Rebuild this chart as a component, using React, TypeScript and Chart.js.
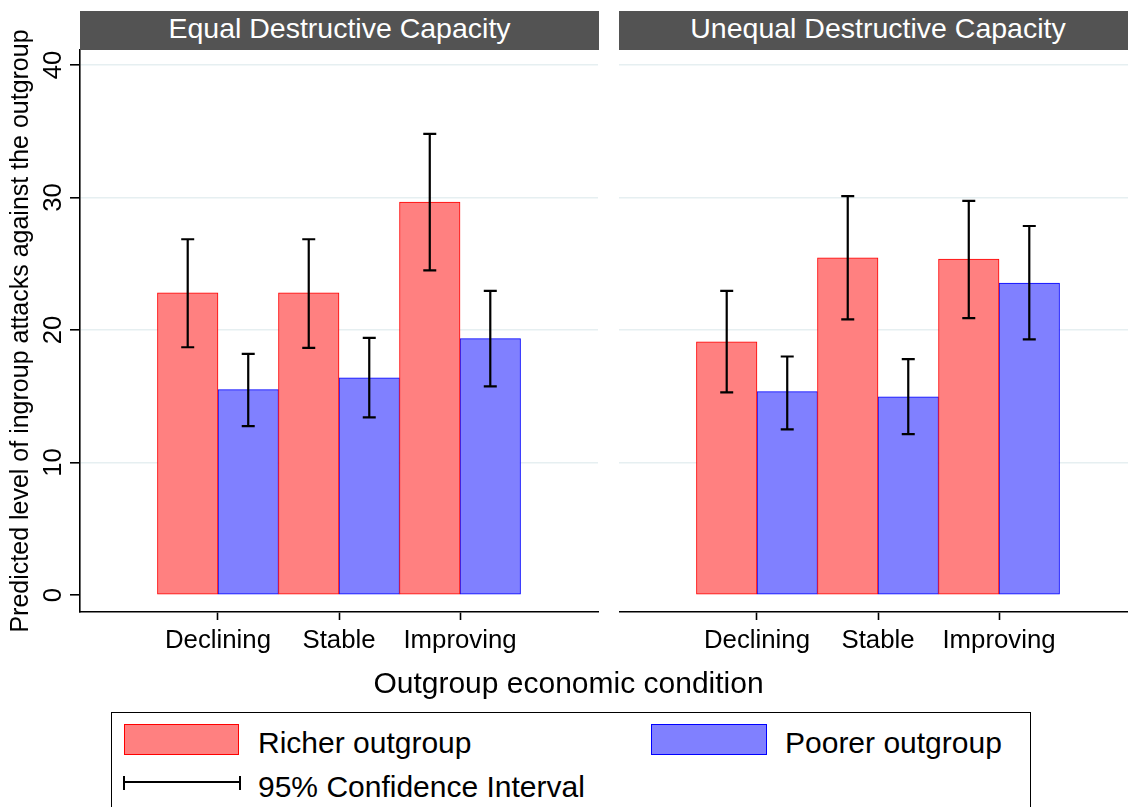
import React, { useEffect, useRef } from 'react';
import { Chart, registerables } from 'chart.js';

Chart.register(...registerables);

const CATEGORIES = ['Declining', 'Stable', 'Improving'];
const CATEGORY_POS = [1, 2, 3];
const PANEL_TITLES = ['Equal Destructive Capacity', 'Unequal Destructive Capacity'];
const SERIES_NAMES = ['Richer outgroup', 'Poorer outgroup'];
const Y_TICKS = [0, 10, 20, 30, 40];
const Y_TITLE = 'Predicted level of ingroup attacks against the outgroup';
const X_TITLE = 'Outgroup economic condition';
const CI_LABEL = '95% Confidence Interval';

const EQUAL_RICHER = [22.8, 22.8, 29.65];
const EQUAL_RICHER_LOW = [18.7, 18.65, 24.5];
const EQUAL_RICHER_HIGH = [26.85, 26.85, 34.8];
const EQUAL_POORER = [15.5, 16.4, 19.35];
const EQUAL_POORER_LOW = [12.75, 13.4, 15.75];
const EQUAL_POORER_HIGH = [18.2, 19.4, 22.95];

const UNEQUAL_RICHER = [19.1, 25.45, 25.35];
const UNEQUAL_RICHER_LOW = [15.3, 20.8, 20.9];
const UNEQUAL_RICHER_HIGH = [22.95, 30.1, 29.75];
const UNEQUAL_POORER = [15.35, 14.95, 23.55];
const UNEQUAL_POORER_LOW = [12.5, 12.15, 19.3];
const UNEQUAL_POORER_HIGH = [18.0, 17.8, 27.85];

const Y_MIN = -1.28;
const Y_MAX = 41.13;
const X_MIN = -0.14;
const X_MAX = 4.14;

const FONT = '"Liberation Sans", Arial, Helvetica, sans-serif';
const RED_FILL = '#ff8080';
const RED_LINE = '#ff0000';
const BLUE_FILL = '#8080ff';
const BLUE_LINE = '#0000ff';
const GRID = '#e6eff1';
const HEADER_BG = '#535353';

const errorBarPlugin = {
  id: 'errorBars',
  afterDatasetsDraw(chart: any) {
    const ctx = chart.ctx;
    const yScale = chart.scales.y;
    chart.data.datasets.forEach((ds: any, i: number) => {
      const meta = chart.getDatasetMeta(i);
      meta.data.forEach((el: any, j: number) => {
        const lo = yScale.getPixelForValue(ds.ciLow[j]);
        const hi = yScale.getPixelForValue(ds.ciHigh[j]);
        const x = el.x;
        ctx.save();
        ctx.strokeStyle = '#000';
        ctx.lineWidth = 2.2;
        ctx.beginPath();
        ctx.moveTo(x, lo);
        ctx.lineTo(x, hi);
        ctx.moveTo(x - 6.5, lo);
        ctx.lineTo(x + 6.5, lo);
        ctx.moveTo(x - 6.5, hi);
        ctx.lineTo(x + 6.5, hi);
        ctx.stroke();
        ctx.restore();
      });
    });
  },
};

type PanelProps = {
  richer: number[];
  richerLow: number[];
  richerHigh: number[];
  poorer: number[];
  poorerLow: number[];
  poorerHigh: number[];
  showYAxis: boolean;
  width: number;
  height: number;
  padRight: number;
};

function Panel(props: PanelProps) {
  const ref = useRef<HTMLCanvasElement | null>(null);
  useEffect(() => {
    if (!ref.current) return;
    const { richer, richerLow, richerHigh, poorer, poorerLow, poorerHigh, showYAxis } = props;
    const yAxis: any = showYAxis
      ? {
          type: 'linear',
          min: Y_MIN,
          max: Y_MAX,
          afterBuildTicks: (s: any) => {
            s.ticks = Y_TICKS.map((v) => ({ value: v }));
          },
          afterFit: (s: any) => {
            s.width = 80;
          },
          grid: {
            color: (c: any) => (c.tick && c.tick.value === 0 ? 'rgba(0,0,0,0)' : GRID),
            lineWidth: 1.6,
            drawTicks: true,
            tickLength: 10,
            tickColor: '#000',
            tickWidth: 1.6,
          },
          border: { display: true, color: '#000', width: 1.6 },
          ticks: {
            minRotation: 90,
            maxRotation: 90,
            crossAlign: 'center',
            padding: 2,
            color: '#000',
            autoSkip: false,
            font: { family: FONT, size: 25.8 },
          },
          title: {
            display: true,
            text: Y_TITLE,
            color: '#000',
            font: { family: FONT, size: 25 },
            padding: { top: 6, bottom: 0 },
          },
        }
      : {
          type: 'linear',
          min: Y_MIN,
          max: Y_MAX,
          afterBuildTicks: (s: any) => {
            s.ticks = Y_TICKS.map((v) => ({ value: v }));
          },
          afterFit: (s: any) => {
            s.width = 0;
          },
          grid: {
            color: (c: any) => (c.tick && c.tick.value === 0 ? 'rgba(0,0,0,0)' : GRID),
            lineWidth: 1.6,
            drawTicks: false,
          },
          border: { display: false },
          ticks: { display: false },
          title: { display: false },
        };

    const chart = new Chart(ref.current, {
      type: 'bar',
      data: {
        datasets: [
          {
            label: SERIES_NAMES[0],
            data: CATEGORY_POS.map((x, i) => ({ x, y: richer[i] })),
            backgroundColor: RED_FILL,
            borderColor: RED_LINE,
            borderWidth: 1,
            borderSkipped: false,
            categoryPercentage: 1,
            barPercentage: 1,
            ciLow: richerLow,
            ciHigh: richerHigh,
          } as any,
          {
            label: SERIES_NAMES[1],
            data: CATEGORY_POS.map((x, i) => ({ x, y: poorer[i] })),
            backgroundColor: BLUE_FILL,
            borderColor: BLUE_LINE,
            borderWidth: 1,
            borderSkipped: false,
            categoryPercentage: 1,
            barPercentage: 1,
            ciLow: poorerLow,
            ciHigh: poorerHigh,
          } as any,
        ],
      },
      options: {
        responsive: false,
        animation: false,
        devicePixelRatio: 1,
        layout: { padding: { top: 50, right: props.padRight, left: 0, bottom: 0 } },
        plugins: { legend: { display: false }, tooltip: { enabled: false } },
        scales: {
          x: {
            type: 'linear',
            offset: false,
            min: X_MIN,
            max: X_MAX,
            afterBuildTicks: (s: any) => {
              s.ticks = CATEGORY_POS.map((v) => ({ value: v }));
            },
            afterFit: (s: any) => {
              s.height = 88;
            },
            grid: {
              offset: false,
              drawOnChartArea: false,
              drawTicks: true,
              tickLength: 8,
              tickColor: '#000',
              tickWidth: 1.6,
            },
            border: { display: true, color: '#000', width: 1.6 },
            ticks: {
              callback: (v: any) => {
                const k = CATEGORY_POS.indexOf(Number(v));
                return k >= 0 ? CATEGORIES[k] : '';
              },
              padding: 5,
              color: '#000',
              autoSkip: false,
              maxRotation: 0,
              font: { family: FONT, size: 25.8 },
            },
          } as any,
          y: yAxis,
        },
      },
      plugins: [errorBarPlugin],
    } as any);
    return () => chart.destroy();
  }, []);
  return <canvas ref={ref} width={props.width} height={props.height} style={{ display: 'block' }} />;
}

const textStyle = (fs: number): React.CSSProperties => ({
  position: 'absolute',
  fontFamily: FONT,
  fontSize: fs,
  lineHeight: fs + 'px',
  color: '#000',
  whiteSpace: 'nowrap',
});

export default function App() {
  return (
    <div
      style={{
        position: 'fixed',
        left: 0,
        top: 0,
        width: 1128,
        height: 807,
        overflow: 'hidden',
        background: '#fff',
        fontFamily: FONT,
      }}
    >
      <div style={{ position: 'absolute', left: 0, top: 0 }}>
        <Panel
          richer={EQUAL_RICHER}
          richerLow={EQUAL_RICHER_LOW}
          richerHigh={EQUAL_RICHER_HIGH}
          poorer={EQUAL_POORER}
          poorerLow={EQUAL_POORER_LOW}
          poorerHigh={EQUAL_POORER_HIGH}
          showYAxis={true}
          width={612}
          height={700}
          padRight={14}
        />
      </div>
      <div style={{ position: 'absolute', left: 619, top: 0 }}>
        <Panel
          richer={UNEQUAL_RICHER}
          richerLow={UNEQUAL_RICHER_LOW}
          richerHigh={UNEQUAL_RICHER_HIGH}
          poorer={UNEQUAL_POORER}
          poorerLow={UNEQUAL_POORER_LOW}
          poorerHigh={UNEQUAL_POORER_HIGH}
          showYAxis={false}
          width={530}
          height={700}
          padRight={12}
        />
      </div>
      {[
        { left: 80, width: 519, text: PANEL_TITLES[0] },
        { left: 619, width: 518, text: PANEL_TITLES[1] },
      ].map((h, i) => (
        <div
          key={i}
          style={{
            position: 'absolute',
            left: h.left,
            top: 11,
            width: h.width,
            height: 39,
            background: HEADER_BG,
            color: '#fff',
            fontFamily: FONT,
            fontSize: 28.5,
            lineHeight: '34px',
            textAlign: 'center',
            whiteSpace: 'nowrap',
          }}
        >
          {h.text}
        </div>
      ))}
      <div style={{ ...textStyle(30), left: 0, width: 1137, top: 667.6, textAlign: 'center' }}>{X_TITLE}</div>
      <div
        style={{
          position: 'absolute',
          left: 111,
          top: 712,
          width: 920,
          height: 120,
          border: '1.6px solid #000',
          boxSizing: 'border-box',
        }}
      />
      <div
        style={{
          position: 'absolute',
          left: 124,
          top: 724,
          width: 115,
          height: 31,
          background: RED_FILL,
          border: '1px solid ' + RED_LINE,
          boxSizing: 'border-box',
        }}
      />
      <div style={{ ...textStyle(30), left: 258, top: 727.6 }}>{SERIES_NAMES[0]}</div>
      <div
        style={{
          position: 'absolute',
          left: 651,
          top: 724,
          width: 116,
          height: 31,
          background: BLUE_FILL,
          border: '1px solid ' + BLUE_LINE,
          boxSizing: 'border-box',
        }}
      />
      <div style={{ ...textStyle(30), left: 785, top: 727.6 }}>{SERIES_NAMES[1]}</div>
      <div style={{ position: 'absolute', left: 124, top: 781, width: 116, height: 2.4, background: '#000' }} />
      <div style={{ position: 'absolute', left: 123, top: 775.5, width: 2.4, height: 14, background: '#000' }} />
      <div style={{ position: 'absolute', left: 238.5, top: 775.5, width: 2.4, height: 14, background: '#000' }} />
      <div style={{ ...textStyle(30), left: 258, top: 772 }}>{CI_LABEL}</div>
    </div>
  );
}
